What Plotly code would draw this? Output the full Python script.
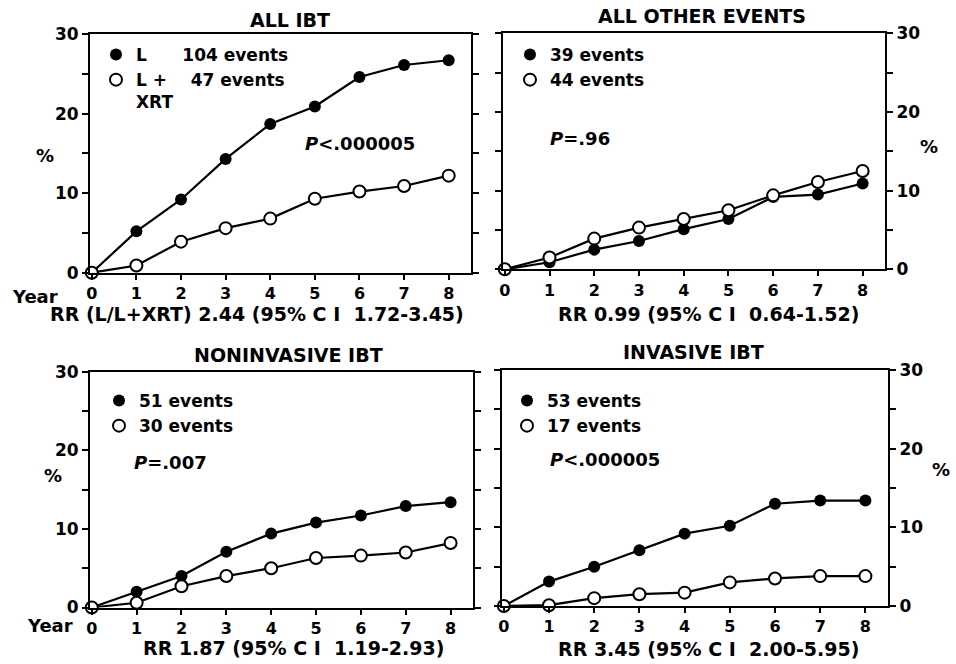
import plotly.graph_objects as go

W, H = 956, 664
FONT = "DejaVu Sans"

years = [0, 1, 2, 3, 4, 5, 6, 7, 8]

all_ibt_L = [0, 5.2, 9.2, 14.3, 18.7, 20.9, 24.6, 26.1, 26.7]
all_ibt_LXRT = [0, 0.9, 3.9, 5.6, 6.8, 9.3, 10.2, 10.9, 12.2]
other_L = [0, 0.9, 2.5, 3.6, 5.1, 6.4, 9.2, 9.5, 10.9]
other_LXRT = [0, 1.5, 3.9, 5.3, 6.4, 7.5, 9.4, 11.1, 12.5]
nonin_L = [0, 2.0, 4.0, 7.1, 9.4, 10.8, 11.7, 12.9, 13.4]
nonin_LXRT = [0, 0.6, 2.7, 4.0, 5.0, 6.3, 6.6, 7.0, 8.2]
inv_L = [0, 3.1, 5.0, 7.1, 9.2, 10.2, 13.0, 13.4, 13.4]
inv_LXRT = [0, 0.1, 1.0, 1.5, 1.7, 3.0, 3.5, 3.8, 3.8]

titles = ["ALL IBT", "ALL OTHER EVENTS", "NONINVASIVE IBT", "INVASIVE IBT"]
legend_L = ["L\u00a0\u00a0\u00a0\u00a0\u00a0\u00a0104 events", "39 events", "51 events", "53 events"]
legend_X = ["L +\u00a0\u00a0\u00a0\u00a047 events<br>XRT", "44 events", "30 events", "17 events"]
p_texts = ["<i>P</i>&lt;.000005", "<i>P</i>=.96", "<i>P</i>=.007", "<i>P</i>&lt;.000005"]
rr_texts = [
    "RR (L/L+XRT) 2.44 (95% C I\u00a0 1.72-3.45)",
    "RR 0.99 (95% C I\u00a0 0.64-1.52)",
    "RR 1.87 (95% C I\u00a0 1.19-2.93)",
    "RR 3.45 (95% C I\u00a0 2.00-5.95)",
]
y_tickvals = [0, 5, 10, 15, 20, 25, 30]
y_ticktext = ["0", "", "10", "", "20", "", "30"]
x_ticktext = [str(y) for y in years]

series_L = [all_ibt_L, other_L, nonin_L, inv_L]
series_X = [all_ibt_LXRT, other_LXRT, nonin_LXRT, inv_LXRT]


def px(x):
    return x / W


def py(y):
    return 1 - y / H


# layout geometry (pixels)
dom_x = [(90, 471), (503, 885), (90, 473), (502, 888)]
dom_y = [(34, 272.7), (33.3, 269.3), (371.7, 607.5), (370, 606)]
sides = ["left", "right", "left", "right"]
title_pos = [(290, 20), (702, 16), (288, 355), (693, 352)]
p_pos = [(303, 143), (548, 138), (132, 462), (548, 460)]
pct_pos = [(45, 155), (929, 147), (53, 475), (941, 469)]
rr_pos = [(257, 314), (708, 314), (293, 648), (708, 649)]
leg_pos = [(96, 37), (510, 37), (99, 383), (507, 383)]
year_pos = [(10, 296), (25, 625)]

fig = go.Figure()
layout = dict(
    width=W, height=H,
    margin=dict(l=0, r=0, t=0, b=0, pad=0, autoexpand=False),
    paper_bgcolor="white", plot_bgcolor="white",
    font=dict(family=FONT, size=18, color="black", weight="bold"),
    showlegend=True,
)

annotations = []
for i in range(4):
    n = i + 1
    xa = "x" if n == 1 else f"x{n}"
    ya = "y" if n == 1 else f"y{n}"
    lg = "legend" if n == 1 else f"legend{n}"
    fig.add_trace(go.Scatter(
        x=years, y=series_L[i], xaxis=xa, yaxis=ya, mode="lines+markers",
        line=dict(color="black", width=2.2),
        marker=dict(symbol="circle", size=12, color="black"),
        showlegend=False, cliponaxis=False, hoverinfo="x+y",
    ))
    fig.add_trace(go.Scatter(
        x=years, y=series_X[i], xaxis=xa, yaxis=ya, mode="lines+markers",
        line=dict(color="black", width=2.2),
        marker=dict(symbol="circle", size=12, color="white",
                    line=dict(color="black", width=2)),
        showlegend=False, cliponaxis=False, hoverinfo="x+y",
    ))
    fig.add_trace(go.Scatter(
        x=[None], y=[None], xaxis=xa, yaxis=ya, mode="markers",
        marker=dict(symbol="circle", size=12, color="black"),
        name=legend_L[i], legend=lg, showlegend=True,
    ))
    fig.add_trace(go.Scatter(
        x=[None], y=[None], xaxis=xa, yaxis=ya, mode="markers",
        marker=dict(symbol="circle", size=12, color="white",
                    line=dict(color="black", width=2)),
        name=legend_X[i], legend=lg, showlegend=True,
    ))

    layout["xaxis" if n == 1 else f"xaxis{n}"] = dict(
        domain=[px(dom_x[i][0]), px(dom_x[i][1])], anchor=ya,
        range=[-0.04, 8.5], tickvals=years, ticktext=x_ticktext,
        ticks="outside", ticklen=5, tickwidth=2, tickcolor="black",
        showline=True, linewidth=2, linecolor="black", mirror=True,
        showgrid=False, zeroline=False, automargin=False,
        tickfont=dict(family=FONT, size=16, color="black", weight="bold"),
    )
    layout["yaxis" if n == 1 else f"yaxis{n}"] = dict(
        domain=[py(dom_y[i][1]), py(dom_y[i][0])], anchor=xa, side=sides[i],
        range=[0, 30], tickvals=y_tickvals, ticktext=y_ticktext,
        ticks="outside", ticklen=6, tickwidth=2, tickcolor="black",
        showline=True, linewidth=2, linecolor="black", mirror="ticks",
        showgrid=False, zeroline=False, automargin=False,
        tickfont=dict(family=FONT, size=17, color="black", weight="bold"),
    )
    layout[lg] = dict(
        x=px(leg_pos[i][0]), y=py(leg_pos[i][1]), xanchor="left", yanchor="top",
        xref="paper", yref="paper",
        bgcolor="rgba(0,0,0,0)", borderwidth=0, valign="top",
        font=dict(family=FONT, size=17, color="black", weight="bold"),
        itemclick=False, itemdoubleclick=False, tracegroupgap=0,
    )

    annotations.append(dict(text=titles[i], x=px(title_pos[i][0]), y=py(title_pos[i][1]),
                            xref="paper", yref="paper", showarrow=False,
                            xanchor="center", yanchor="middle",
                            font=dict(family=FONT, size=19, color="black", weight="bold")))
    annotations.append(dict(text=p_texts[i], x=px(p_pos[i][0]), y=py(p_pos[i][1]),
                            xref="paper", yref="paper", showarrow=False,
                            xanchor="left", yanchor="middle",
                            font=dict(family=FONT, size=18, color="black", weight="bold")))
    annotations.append(dict(text="%", x=px(pct_pos[i][0]), y=py(pct_pos[i][1]),
                            xref="paper", yref="paper", showarrow=False,
                            xanchor="center", yanchor="middle",
                            font=dict(family=FONT, size=18, color="black", weight="bold")))
    annotations.append(dict(text=rr_texts[i], x=px(rr_pos[i][0]), y=py(rr_pos[i][1]),
                            xref="paper", yref="paper", showarrow=False,
                            xanchor="center", yanchor="middle",
                            font=dict(family=FONT, size=19, color="black", weight="bold")))

for (xx, yy) in year_pos:
    annotations.append(dict(text="Year", x=px(xx), y=py(yy),
                            xref="paper", yref="paper", showarrow=False,
                            xanchor="left", yanchor="middle",
                            font=dict(family=FONT, size=18, color="black", weight="bold")))

layout["annotations"] = annotations
fig.update_layout(**layout)
fig.write_html("out.html", config={"displayModeBar": False},
               post_script="document.body.style.margin='0';")
